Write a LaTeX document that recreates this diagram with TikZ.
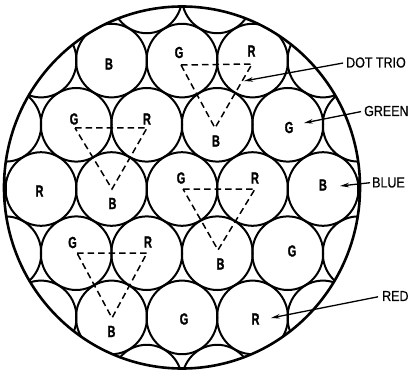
\documentclass[tikz,border=0pt]{standalone}
\usepackage{fontspec}
\setmainfont{Liberation Sans}
\newfontfamily\lblfont[FakeStretch=0.68,FakeBold=1.2]{Liberation Sans}
\newfontfamily\callfont[FakeStretch=0.86,FakeBold=0.6]{Liberation Sans}
\usetikzlibrary{arrows.meta}
\begin{document}
\begin{tikzpicture}[x=1pt,y=-1pt,
  cell/.style={line width=2pt},
  rim/.style={line width=2.6pt},
  ltr/.style={font=\lblfont\bfseries\fontsize{16}{16}\selectfont, inner sep=0pt},
  call/.style={font=\callfont\fontsize{14.5}{14.5}\selectfont, inner sep=0pt, anchor=west},
  leader/.style={line width=1.3pt, -{Stealth[length=9pt,width=4.5pt]}},
  trio/.style={line width=1.5pt, dash pattern=on 6.5pt off 4pt}]
\useasboundingbox (0,0) rectangle (411,371);
% packed dots, clipped by the screen
\begin{scope}
  \clip (182,187.5) ellipse [x radius=178pt, y radius=181pt];
  \foreach \r in {-3,...,3} {
    \foreach \k in {-4,...,4} {
      \pgfmathsetmacro\xx{182 + \k*70.5 + mod(abs(\r),2)*35.25}
      \pgfmathsetmacro\yy{189 + \r*64.2}
      \draw[cell] (\xx,\yy) ellipse [x radius=35.5pt, y radius=36.8pt];
    }
  }
\end{scope}
\draw[rim] (182,187.5) ellipse [x radius=178pt, y radius=181pt];
% letters
\node[ltr] (b11) at (109,64) {B};
\node[ltr] (g12) at (179,52.5) {G};
\node[ltr] (r13) at (251.5,51) {R};
\node[ltr] (g21) at (74,119) {G};
\node[ltr] (r22) at (147,119) {R};
\node[ltr] (b23) at (216,141) {B};
\node[ltr] (g24) at (289,127.5) {G};
\node[ltr] (r31) at (39.5,191) {R};
\node[ltr] (b32) at (112.5,203.5) {B};
\node[ltr] (g33) at (181,178) {G};
\node[ltr] (r34) at (255,178) {R};
\node[ltr] (b35) at (323,185) {B};
\node[ltr] (g41) at (72.5,242.5) {G};
\node[ltr] (r42) at (148,242) {R};
\node[ltr] (b43) at (220.5,264) {B};
\node[ltr] (g44) at (292,251) {G};
\node[ltr] (b51) at (111.5,331.5) {B};
\node[ltr] (g52) at (184,319) {G};
\node[ltr] (r53) at (255.5,319) {R};
% dot trios
\draw[trio] (181,65) -- (252,64) -- (215,128) -- cycle;
\draw[trio] (75,128) -- (147,128) -- (112,189) -- cycle;
\draw[trio] (183,189) -- (255,189) -- (218,250) -- cycle;
\draw[trio] (77,253) -- (147,253) -- (112,318) -- cycle;
% callouts
\node[call] (dot) at (346,62.5) {DOT TRIO};
\node[call] (green) at (364,111) {GREEN};
\node[call] (blue) at (372,182.5) {BLUE};
\node[call] (red) at (382,296) {RED};
\coordinate (dotend) at (244,81);
\coordinate (greenend) at (304,123);
\coordinate (blueend) at (340,186);
\coordinate (redend) at (271,318);
\draw[leader, shorten <=3pt] (dot.west) -- (dotend);
\draw[leader, shorten <=3pt] (green.west) -- (greenend);
\draw[leader, shorten <=2pt] (blue.west) -- (blueend);
\draw[leader, shorten <=4pt] (red.west) -- (redend);
\end{tikzpicture}
\end{document}
